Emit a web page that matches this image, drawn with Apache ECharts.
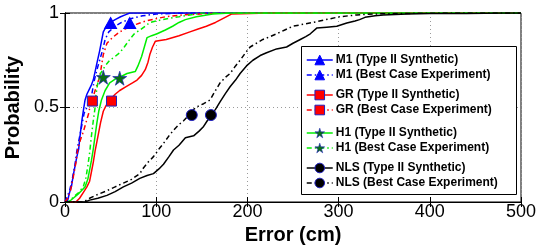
<!DOCTYPE html>
<html>
<head>
<meta charset="utf-8">
<script src="https://cdn.jsdelivr.net/npm/echarts@6/dist/echarts.min.js"></script>
<style>html,body{margin:0;padding:0;background:#fff}#c{width:541px;height:245px}</style>
</head>
<body>
<div id="c"></div>
<script>
var xTicks = [0, 100, 200, 300, 400, 500];
var yTicks = [0, 0.5, 1];

var seriesNames = [
  'M1 (Type II Synthetic)', 'M1 (Best Case Experiment)',
  'GR (Type II Synthetic)', 'GR (Best Case Experiment)',
  'H1 (Type II Synthetic)', 'H1 (Best Case Experiment)',
  'NLS (Type II Synthetic)', 'NLS (Best Case Experiment)'
];

var m1Synth = [[0,0],[3,0.01],[5,0.05],[7,0.08],[9,0.14],[11,0.19],[13,0.24],[15,0.28],[16,0.33],[17,0.37],[18.5,0.43],[20,0.48],[22,0.54],[24,0.57],[27,0.6],[29,0.62],[31,0.645],[33,0.69],[35,0.735],[38,0.8],[42,0.9],[46,0.935],[50,0.95],[55,0.965],[61,0.98],[66,0.99],[71,1],[500,1]];
var m1Best = [[0,0],[2,0.01],[5,0.06],[8,0.12],[11,0.2],[13,0.27],[15,0.32],[17,0.37],[19,0.42],[21,0.47],[24,0.5],[27,0.53],[29,0.56],[32,0.64],[35,0.7],[38,0.75],[41,0.8],[44,0.86],[48,0.9],[55,0.93],[62,0.95],[72,0.97],[85,0.985],[100,0.995],[130,1],[500,1]];
var grSynth = [[0,0],[12,0],[16,0.02],[20,0.05],[24,0.08],[27,0.11],[29,0.16],[31,0.21],[33,0.27],[35,0.32],[37,0.37],[39,0.42],[42,0.48],[45,0.51],[49,0.54],[55,0.57],[60,0.59],[67,0.61],[74,0.63],[79,0.645],[84,0.67],[88,0.7],[91,0.74],[93,0.78],[96,0.82],[99,0.85],[111,0.86],[125,0.88],[137,0.9],[146,0.915],[155,0.93],[165,0.95],[173,0.97],[183,0.995],[223,1],[500,1]];
var grBest = [[0,0],[3,0.02],[6,0.06],[9,0.13],[12,0.21],[14,0.28],[17,0.33],[20,0.37],[23,0.42],[26,0.47],[28,0.52],[31,0.56],[35,0.62],[38,0.66],[40,0.72],[42,0.78],[46,0.84],[52,0.87],[60,0.9],[68,0.92],[78,0.94],[90,0.96],[110,0.98],[130,0.99],[160,0.998],[200,1],[500,1]];
var h1Synth = [[0,0],[4,0],[9,0.02],[14,0.04],[18,0.06],[22,0.08],[25,0.12],[27,0.17],[29,0.22],[31,0.28],[33,0.35],[35,0.42],[37,0.48],[40,0.54],[44,0.59],[49,0.63],[55,0.65],[60,0.66],[68,0.68],[77,0.69],[80,0.72],[84,0.77],[87,0.82],[90,0.87],[95,0.88],[101,0.89],[110,0.91],[118,0.93],[125,0.95],[132,0.965],[144,0.98],[162,0.995],[181,1],[500,1]];
var h1Best = [[0,0],[3,0],[6,0.01],[10,0.03],[15,0.05],[20,0.08],[23,0.13],[25,0.19],[27,0.26],[29,0.35],[31,0.43],[33,0.5],[34,0.57],[36,0.63],[39,0.68],[44,0.72],[49,0.75],[55,0.77],[60,0.79],[65,0.82],[71,0.86],[76,0.89],[82,0.91],[88,0.93],[93,0.95],[102,0.96],[112,0.97],[125,0.98],[137,0.99],[150,1],[500,1]];
var nlsSynth = [[0,0],[22,0],[27,0.01],[36,0.02],[46,0.035],[55,0.055],[64,0.08],[73,0.1],[82,0.125],[90,0.14],[97,0.15],[103,0.175],[108,0.2],[114,0.24],[119,0.275],[125,0.3],[132,0.34],[141,0.35],[147,0.375],[152,0.4],[156,0.43],[160,0.46],[165,0.49],[170,0.53],[176,0.575],[181,0.61],[187,0.645],[192,0.68],[199,0.72],[206,0.75],[214,0.775],[221,0.79],[232,0.81],[243,0.82],[250,0.84],[258,0.86],[264,0.875],[269,0.89],[276,0.92],[287,0.925],[298,0.93],[309,0.947],[318,0.958],[323,0.965],[329,0.977],[340,0.985],[349,0.99],[375,0.995],[400,0.997],[440,0.998],[480,1],[500,1]];
var nlsBest = [[0,0],[20,0],[27,0.02],[36,0.04],[46,0.06],[55,0.08],[64,0.1],[73,0.12],[82,0.15],[86,0.18],[91,0.21],[97,0.24],[103,0.28],[108,0.31],[114,0.35],[119,0.38],[125,0.41],[130,0.43],[136,0.46],[141,0.49],[147,0.51],[152,0.52],[159,0.54],[165,0.59],[170,0.63],[176,0.66],[181,0.68],[187,0.72],[192,0.75],[198,0.79],[203,0.82],[210,0.84],[217,0.86],[225,0.875],[232,0.89],[241,0.91],[250,0.93],[261,0.94],[272,0.95],[286,0.965],[301,0.98],[320,0.99],[338,0.995],[380,0.998],[420,1],[500,1]];

var m1Marks = [[50,0.947],[71,0.947]];
var grMarks = [[30,0.534],[51,0.534]];
var h1Marks = [[42,0.66],[60,0.655]];
var nlsMarks = [[139,0.46],[160,0.46]];

var STAR = 'path://M50,0 L61.2,34.5 L97.6,34.5 L68.2,55.9 L79.4,90.5 L50,69.1 L20.6,90.5 L31.8,55.9 L2.4,34.5 L38.8,34.5 Z';
var FONT = '"Liberation Sans", Arial, Helvetica, sans-serif';
var DASHDOT = [5, 3, 1.5, 3];

var styles = [
  {c:'#0000ff', sym:'triangle', fill:'#0000ff', border:'#0000ff', bw:1, dash:'solid', data:m1Synth},
  {c:'#0000ff', sym:'triangle', fill:'#0000ff', border:'#0000ff', bw:1, dash:DASHDOT, data:m1Best},
  {c:'#ff0000', sym:'rect', fill:'#ff0000', border:'#2020c0', bw:1, dash:'solid', data:grSynth},
  {c:'#ff0000', sym:'rect', fill:'#ff0000', border:'#2020c0', bw:1, dash:DASHDOT, data:grBest},
  {c:'#00ee00', sym:STAR, fill:'#0a6e14', border:'#2020c0', bw:0.6, dash:'solid', data:h1Synth},
  {c:'#00ee00', sym:STAR, fill:'#0a6e14', border:'#2020c0', bw:0.6, dash:DASHDOT, data:h1Best},
  {c:'#000000', sym:'circle', fill:'#000000', border:'#2020c0', bw:1, dash:'solid', data:nlsSynth},
  {c:'#000000', sym:'circle', fill:'#000000', border:'#2020c0', bw:1, dash:DASHDOT, data:nlsBest}
];

var series = styles.map(function (s, i) {
  return {
    name: seriesNames[i], type: 'line', data: s.data,
    symbol: s.sym, showSymbol: false, symbolSize: 9,
    lineStyle: {color: s.c, width: 1.5, type: s.dash},
    itemStyle: {color: s.fill, borderColor: s.border, borderWidth: s.bw},
    color: s.c, animation: false, z: 2
  };
});

var markSets = [
  {d:m1Marks, sym:'triangle', size:[12,11], fill:'#0000ff', border:'#0000ff', bw:1},
  {d:grMarks, sym:'rect', size:10, fill:'#ff0000', border:'#2020c0', bw:1},
  {d:h1Marks, sym:STAR, size:14, fill:'#0a6e14', border:'#2020c0', bw:0.7},
  {d:nlsMarks, sym:'circle', size:11, fill:'#000000', border:'#2020c0', bw:1}
];
markSets.forEach(function (m) {
  series.push({
    type: 'scatter', data: m.d, symbol: m.sym, symbolSize: m.size,
    itemStyle: {color: m.fill, borderColor: m.border, borderWidth: m.bw, opacity: 1},
    animation: false, z: 5, silent: true
  });
});

function legendGroup(from, top) {
  var items = [from, from + 1].map(function (i) {
    var s = styles[i];
    return {
      name: seriesNames[i],
      itemStyle: {color: s.fill, borderColor: s.border, borderWidth: s.bw},
      lineStyle: {color: s.c, width: 1.5, type: s.dash}
    };
  });
  return {
    show: true, orient: 'vertical', left: 306, top: top, padding: 0,
    itemWidth: 26, itemHeight: 12, itemGap: 3,
    data: items, selectedMode: false,
    textStyle: {fontFamily: FONT, fontWeight: 'bold', fontSize: 12, color: '#000', padding: [0,0,0,-2]}
  };
}

var chart = echarts.init(document.getElementById('c'), null, {renderer: 'canvas'});
chart.setOption({
  animation: false,
  backgroundColor: '#fff',
  grid: {left: 65, right: 20, top: 13, bottom: 43, show: true, borderColor: '#000', borderWidth: 1, containLabel: false, outerBoundsMode: 'none'},
  xAxis: [{
    type: 'value', min: xTicks[0], max: xTicks[xTicks.length-1], interval: 100,
    name: 'Error (cm)', nameLocation: 'middle', nameGap: 14,
    nameTextStyle: {fontFamily: FONT, fontWeight: 'bold', fontSize: 20, color: '#000'},
    axisLine: {show: true, lineStyle: {color: '#000', width: 1}},
    axisTick: {show: true, inside: true, length: 5, lineStyle: {color: '#000'}},
    axisLabel: {fontFamily: FONT, fontSize: 18, color: '#000', margin: 1},
    splitLine: {show: true, lineStyle: {color: '#9a9a9a', type: [1,3], width: 1}}
  }, {
    type: 'value', position: 'top', min: xTicks[0], max: xTicks[xTicks.length-1], interval: 100,
    axisLine: {show: true, lineStyle: {color: '#000'}},
    axisTick: {show: true, inside: true, length: 5, lineStyle: {color: '#000'}},
    axisLabel: {show: false}, splitLine: {show: false}
  }],
  yAxis: [{
    type: 'value', min: yTicks[0], max: yTicks[yTicks.length-1], interval: 0.5,
    name: 'Probability', nameLocation: 'middle', nameGap: 35,
    nameTextStyle: {fontFamily: FONT, fontWeight: 'bold', fontSize: 20, color: '#000'},
    axisLine: {show: true, lineStyle: {color: '#000', width: 1}},
    axisTick: {show: true, inside: true, length: 5, lineStyle: {color: '#000'}},
    axisLabel: {fontFamily: FONT, fontSize: 18, color: '#000', margin: 6,
      formatter: function (v) { return String(v); }},
    splitLine: {show: true, lineStyle: {color: '#9a9a9a', type: [1,3], width: 1}}
  }, {
    type: 'value', position: 'right', min: yTicks[0], max: yTicks[yTicks.length-1], interval: 0.5,
    axisLine: {show: true, lineStyle: {color: '#000'}},
    axisTick: {show: true, inside: true, length: 5, lineStyle: {color: '#000'}},
    axisLabel: {show: false}, splitLine: {show: false}
  }],
  legend: [
    legendGroup(0, 54),
    legendGroup(2, 89),
    legendGroup(4, 127),
    legendGroup(6, 162)
  ],
  graphic: [{
    type: 'rect', left: 301, top: 46, z: 3,
    shape: {width: 215, height: 148},
    style: {fill: '#fff', stroke: '#000', lineWidth: 1}
  }],
  series: series
});
</script>
</body>
</html>
